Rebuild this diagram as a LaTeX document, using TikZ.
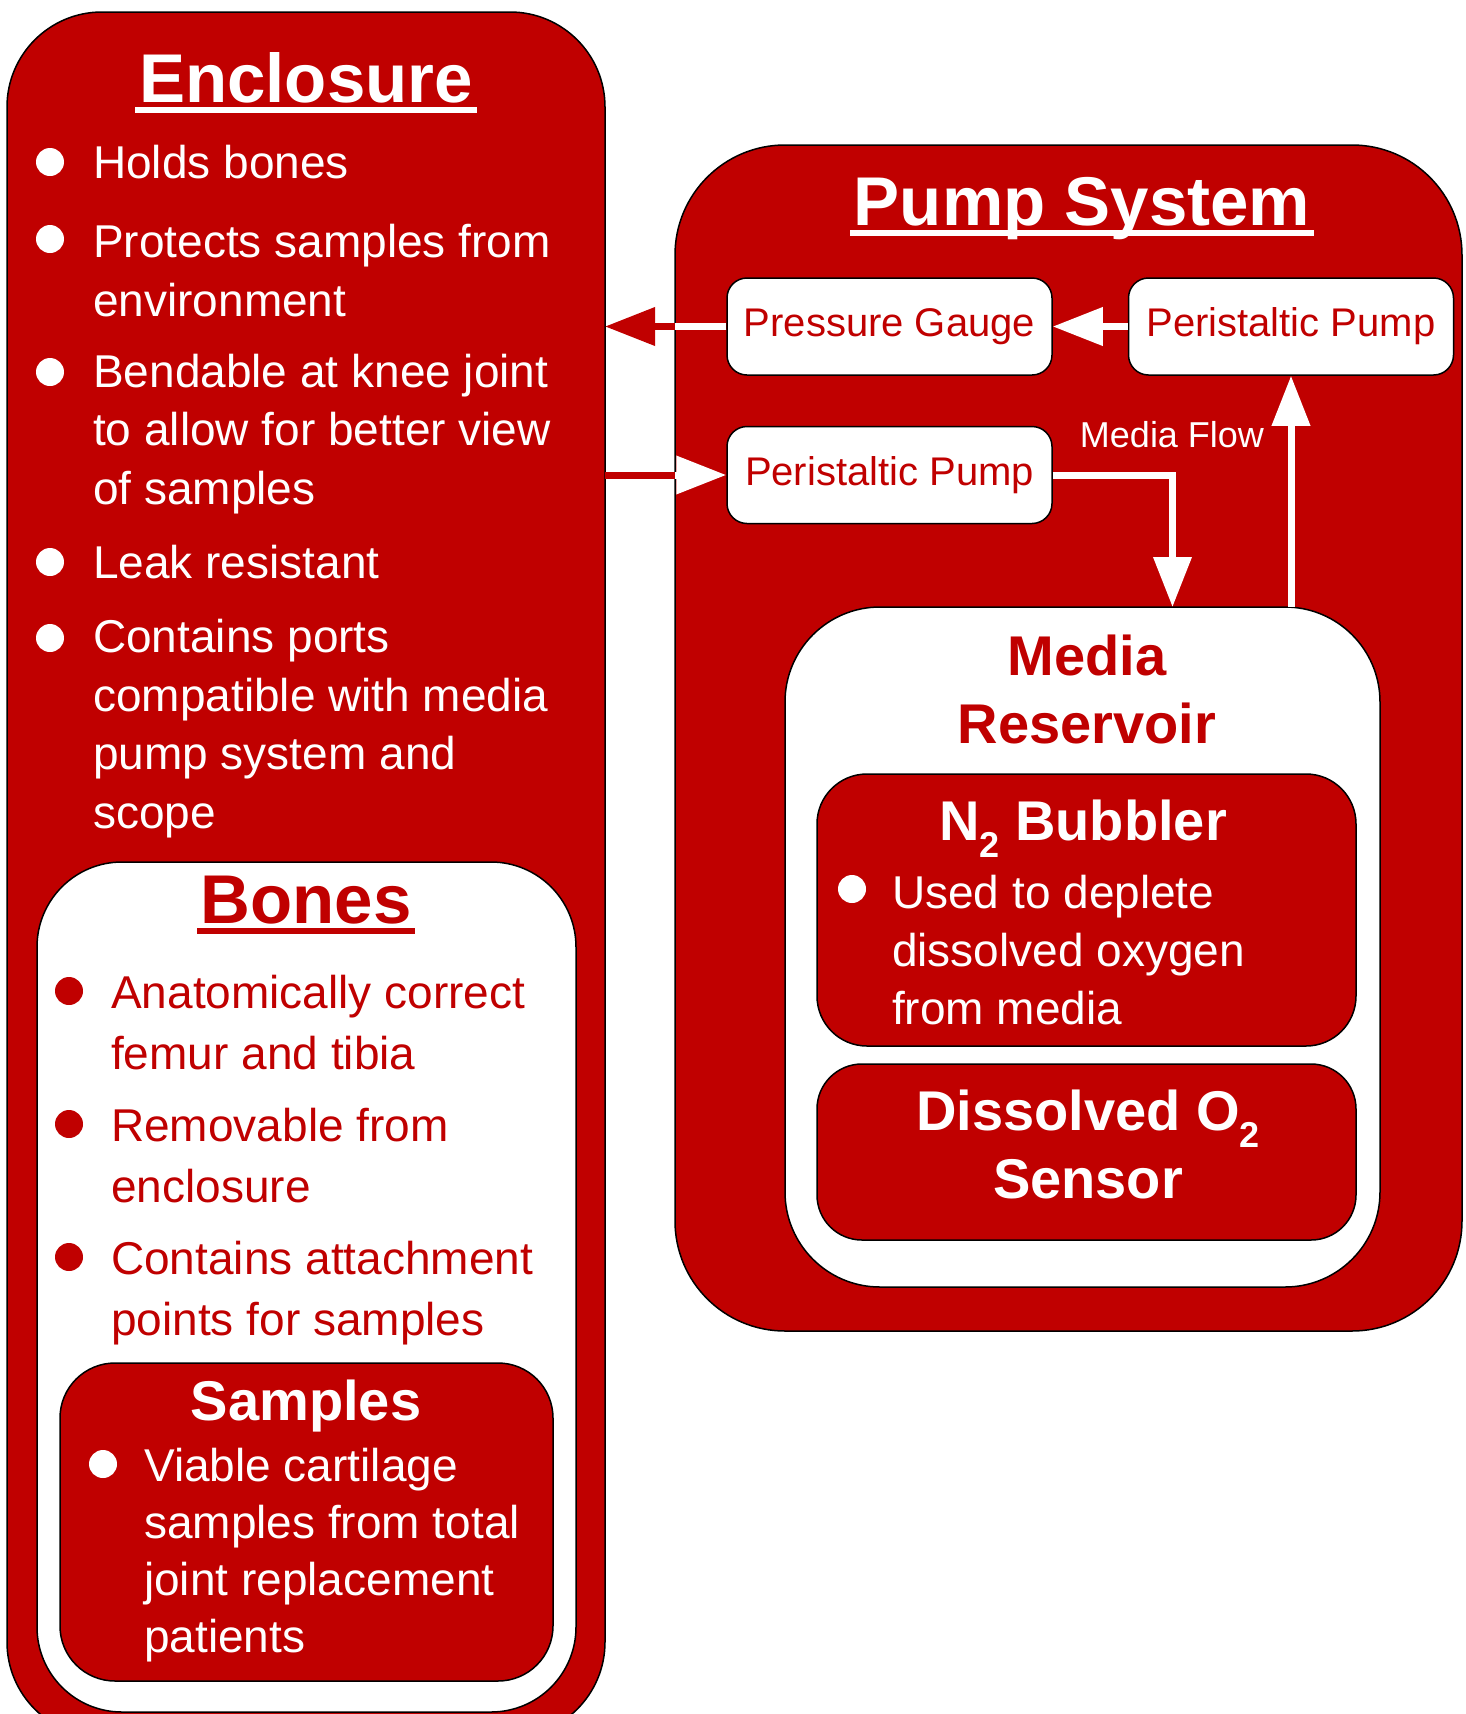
\documentclass[tikz,border=0pt]{standalone}
\usepackage{fontspec}
\setmainfont{Liberation Sans}
\usetikzlibrary{arrows.meta,positioning}
\definecolor{boxred}{HTML}{C00000}
\newcommand{\titleline}[1]{\setbox0=\hbox{#1}\makebox[0pt][l]{\hspace{-4pt}\rule[-11pt]{\dimexpr\wd0+8pt\relax}{6.5pt}}\box0}
\newcommand{\lowsub}[1]{\raisebox{-17pt}{\fontsize{36}{36}\selectfont #1}}
\tikzset{
  panel/.style={draw=black, line width=1.5pt, anchor=north west, inner sep=0pt, outer sep=0pt},
  redpanel/.style={panel, fill=boxred},
  whitepanel/.style={panel, fill=white},
  pumpbox/.style={draw=black, line width=1.5pt, fill=white, rounded corners=20pt,
                  minimum width=325pt, minimum height=97pt, inner sep=0pt,
                  text=boxred, font=\fontsize{40}{48}\selectfont},
  heading/.style={font=\fontsize{69}{80}\bfseries\selectfont, anchor=base, inner sep=0pt},
  subheading/.style={font=\fontsize{56}{68}\bfseries\selectfont, anchor=base, inner sep=0pt, align=center},
  bullettext/.style={font=\fontsize{46}{58.5}\selectfont, anchor=base west, inner sep=0pt, align=left},
  pipe/.style={line width=7pt},
  flowarrow/.style={pipe, -{Triangle[length=50pt,width=37pt]}}
}
\begin{document}
\begin{tikzpicture}[x=1pt, y=-1pt]
\clip (0,0) rectangle (1466,1714);
\fill[white] (0,0) rectangle (1466,1714);

% enclosure (text nodes sit on their last baseline)
\node[redpanel, rounded corners=95pt, minimum width=598pt, minimum height=1725pt] (enclosure) at (7,12) {};
\node[heading, text=white] (enctitle) at (306,102) {\titleline{Enclosure}};
\node[bullettext, text=white] (holds) at (93,178) {Holds bones};
\node[bullettext, text=white] (protects) at (93,316) {Protects samples from\\environment};
\node[bullettext, text=white] (bendable) at (93,504) {Bendable at knee joint\\to allow for better view\\of samples};
\node[bullettext, text=white] (leak) at (93,578) {Leak resistant};
\node[bullettext, text=white] (ports) at (93,828) {Contains ports\\compatible with media\\pump system and\\scope};
\foreach \y in {162,239,372,562,638}
  \fill[white] (50,\y) circle[radius=14pt];

% bones
\node[whitepanel, rounded corners=85pt, minimum width=539pt, minimum height=850pt] (bones) at (37,862) {};
\node[heading, text=boxred] (bonestitle) at (306,923) {\titleline{Bones}};
\node[bullettext, text=boxred, font=\fontsize{46}{61}\selectfont] (anatomy) at (111,1069) {Anatomically correct\\femur and tibia};
\node[bullettext, text=boxred, font=\fontsize{46}{61}\selectfont] (removable) at (111,1202) {Removable from\\enclosure};
\node[bullettext, text=boxred, font=\fontsize{46}{61}\selectfont] (attach) at (111,1335) {Contains attachment\\points for samples};
\foreach \y in {991,1124,1257}
  \fill[boxred] (69,\y) circle[radius=14pt];

% samples
\node[redpanel, rounded corners=55pt, minimum width=493pt, minimum height=318pt] (samples) at (60,1363) {};
\node[subheading, text=white] (samplestitle) at (306,1420) {Samples};
\node[bullettext, text=white, font=\fontsize{46}{57}\selectfont] (viable) at (144,1652) {Viable cartilage\\samples from total\\joint replacement\\patients};
\fill[white] (103,1464) circle[radius=14pt];

% pump system
\node[redpanel, rounded corners=110pt, minimum width=787pt, minimum height=1186pt] (pump) at (675,145) {};
\node[heading, text=white] (pumptitle) at (1082,225) {\titleline{Pump System}};
\node[pumpbox] (gauge) at (889.5,326.5) {Pressure Gauge};
\node[pumpbox, right=75pt of gauge] (pumpout) {Peristaltic Pump};
\node[pumpbox, below=50pt of gauge] (pumpin) {Peristaltic Pump};

% reservoir
\node[whitepanel, rounded corners=95pt, minimum width=595pt, minimum height=680pt] (reservoir) at (785,607) {};
\node[subheading, text=boxred] (restitle) at (1087,743) {Media\\Reservoir};
\node[redpanel, rounded corners=50pt, minimum width=539pt, minimum height=272pt] (bubbler) at (817,774) {};
\node[subheading, text=white] (bubtitle) at (1083,840) {N\lowsub{2} Bubbler};
\node[bullettext, text=white, font=\fontsize{46}{58}\selectfont] (deplete) at (892,1024) {Used to deplete\\dissolved oxygen\\from media};
\fill[white] (852,889) circle[radius=14pt];
\node[redpanel, rounded corners=45pt, minimum width=539pt, minimum height=176pt] (sensor) at (817,1064) {};
\node[subheading, text=white] (sensortitle) at (1088,1198) {Dissolved O\lowsub{2}\\Sensor};

% media flow
\draw[pipe, white] (gauge.west) -- (gauge.west -| pump.west);
\draw[flowarrow, boxred] (gauge.west -| pump.west) -- (gauge.west -| enclosure.east);
\draw[pipe, boxred] (pumpin.west -| enclosure.east) -- (pumpin.west -| pump.west);
\draw[flowarrow, white] (pumpin.west -| pump.west) -- (pumpin.west);
\draw[flowarrow, white] (pumpout.west) -- (gauge.east);
\draw[flowarrow, white] (pumpin.east) -| ([xshift=90pt]reservoir.north);
\draw[flowarrow, white] (reservoir.north -| pumpout.south) -- (pumpout.south);
\node[anchor=base, inner sep=0pt, text=white, font=\fontsize{36}{40}\selectfont] (flowlabel) at (1172,447) {Media Flow};
\end{tikzpicture}
\end{document}
